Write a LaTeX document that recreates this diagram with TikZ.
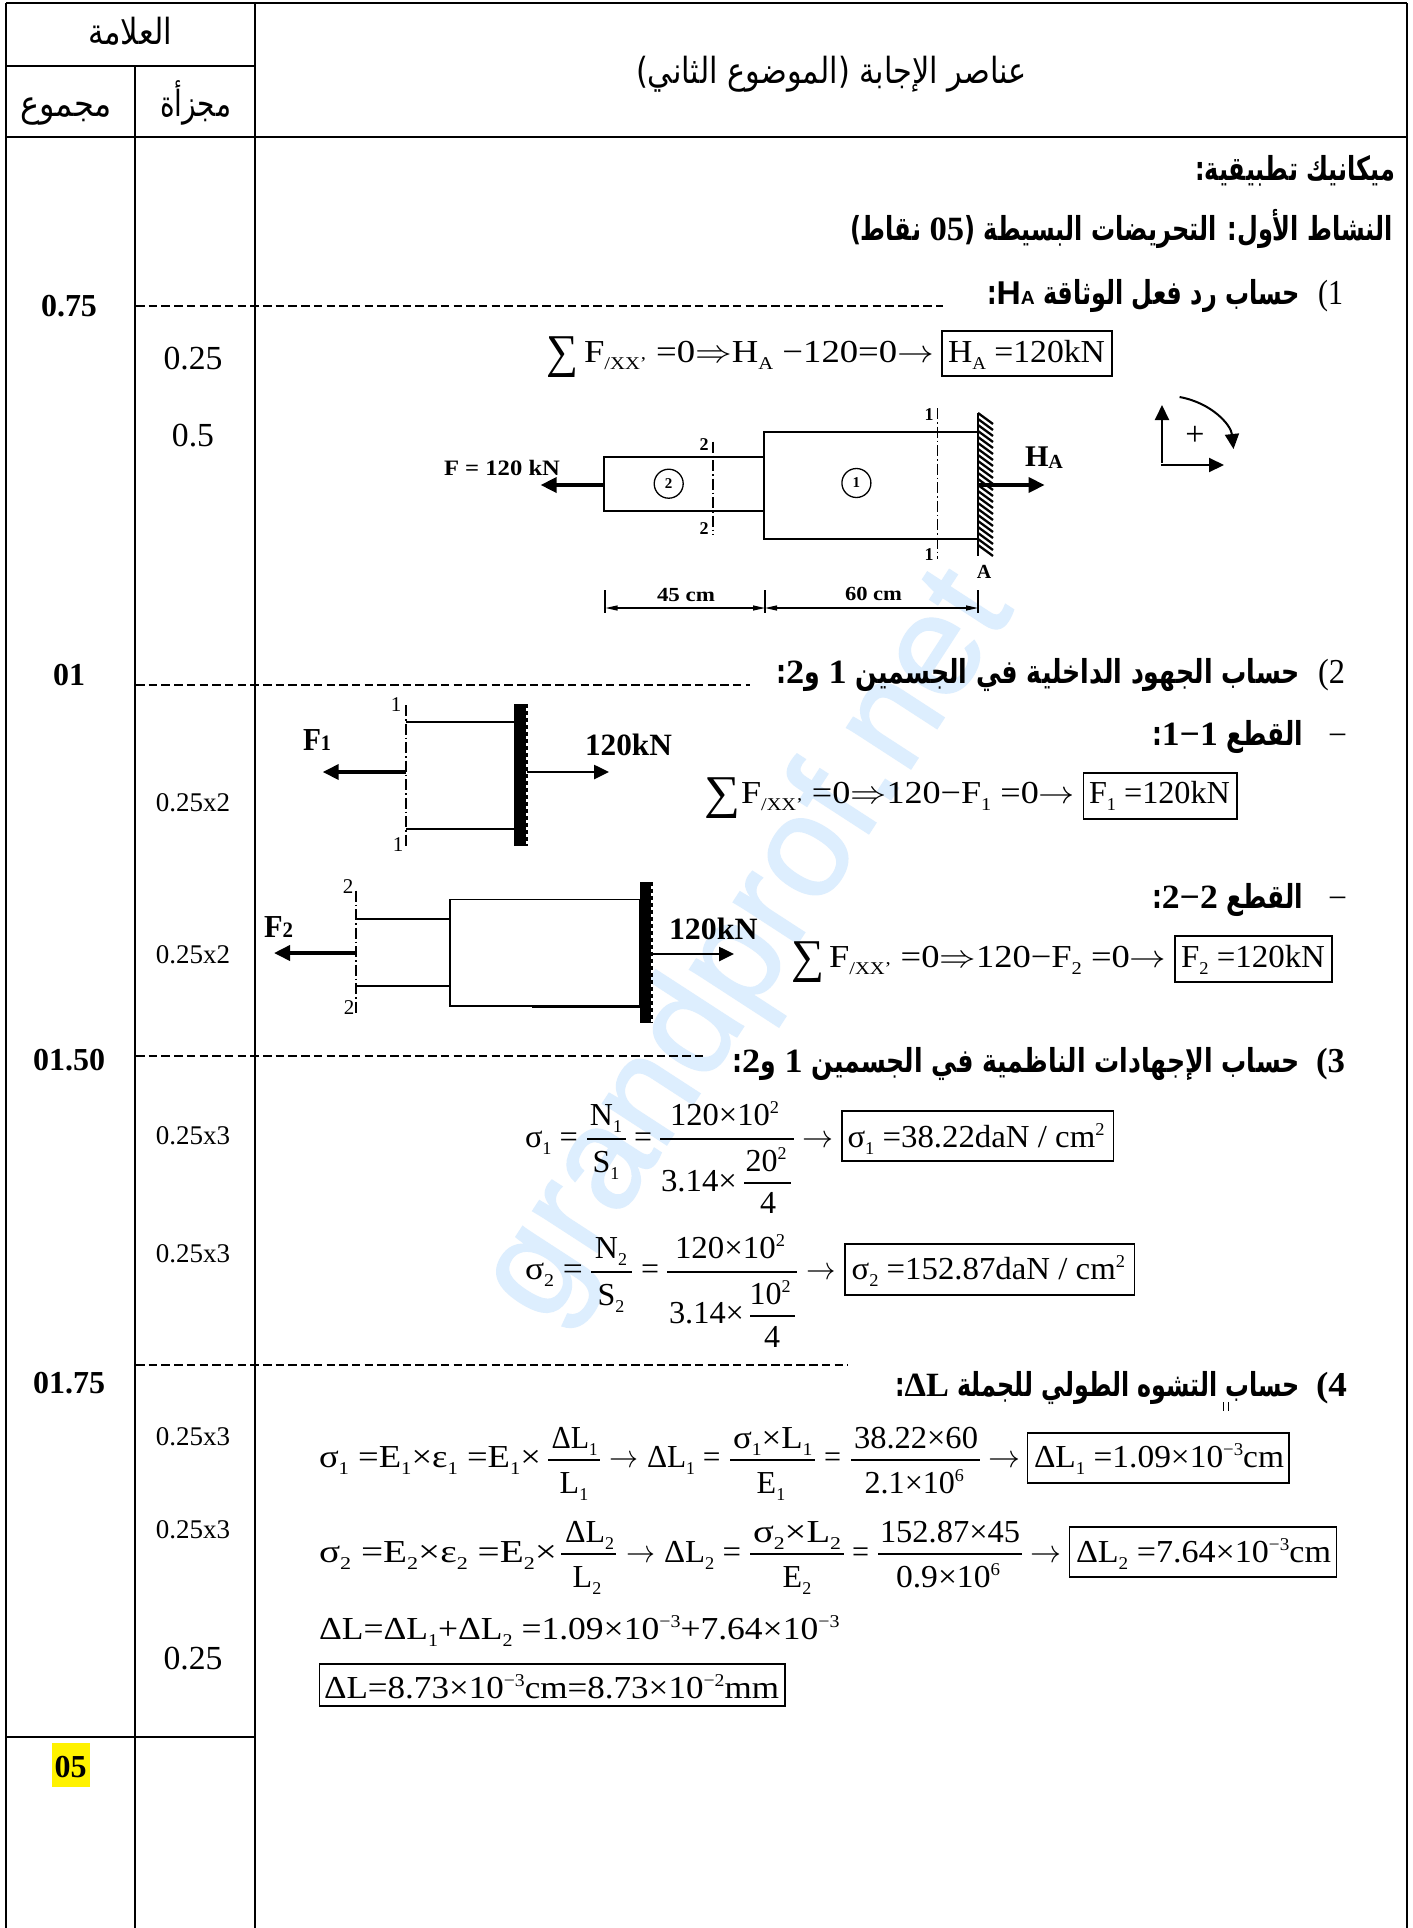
\RequirePackage{fix-cm}
\documentclass[tikz,border=0pt]{standalone}
\usepackage{fontspec}
\usepackage{graphicx}
\usetikzlibrary{arrows.meta}
\setmainfont{Liberation Serif}
\newfontfamily\sansf{Liberation Sans}
\newfontfamily\sansw[FakeStretch=1.4]{Liberation Sans}
\newfontfamily\serifw[FakeStretch=1.4]{Liberation Serif}
\newfontfamily\wmf[FakeBold=1.2]{Liberation Sans}
\newfontfamily\arf[Script=Arabic]{DejaVu Sans}
\TeXXeTstate=1
\definecolor{wmark}{HTML}{DDEEFE}
\newcounter{nc}
\newcommand\bs[1]{\raisebox{-7pt}{\fontsize{18}{18}\selectfont #1}}
\newcommand\us[1]{\raisebox{12pt}{\fontsize{18}{18}\selectfont #1}}
\newcommand\Tx[5]{\stepcounter{nc}\node[anchor=base west,inner sep=0pt,outer sep=0pt,name=t\arabic{nc}] at (#2,#4) {\resizebox{\dimexpr#3pt-#2pt\relax}{\height}{\fontsize{#1}{#1}\selectfont #5}};}
\newcommand\Tc[4]{\stepcounter{nc}\node[anchor=base,inner sep=0pt,outer sep=0pt,name=t\arabic{nc}] at (#2,#3) {\fontsize{#1}{#1}\selectfont #4};}
\newcommand\Rl[3]{\draw[fracrule] (#1,#3) -- (#2,#3);}
\newcommand\Bx[4]{\draw[resbox] (#1,#2) rectangle (#3,#4);}
\newcommand\Ar[1]{\arf\beginR #1\endR}
\newcommand\Ln[1]{{\beginL\serifw\bfseries\fontsize{34}{34}\selectfont #1\endL}}
\newcommand\To{$\rightarrow$}
\tikzset{
  tline/.style={line width=1.8pt,black},
  theavy/.style={line width=2.6pt,black},
  dline/.style={line width=1.5pt,black,dash pattern=on 8.5pt off 4.2pt},
  fracrule/.style={line width=1.3pt,black},
  resbox/.style={line width=1.4pt,black},
  part/.style={line width=1.9pt,black},
  thin part/.style={line width=1.5pt,black},
  axis cut/.style={line width=1.1pt,black,dash pattern=on 11pt off 3pt on 1.5pt off 3pt},
  force/.style={line width=3.6pt,black,-{Triangle[length=16pt,width=15pt]}},
  forceb/.style={line width=2.6pt,black,-{Triangle[length=15pt,width=14pt]}},
  dim/.style={line width=1.2pt,black,{Triangle[length=12pt,width=5pt]}-{Triangle[length=12pt,width=5pt]}},
  tick/.style={line width=1.2pt,black},
  sign/.style={line width=2pt,black,-{Triangle[length=15pt,width=14pt]}},
  wall/.style={fill=black,draw=none},
  bumps/.style={line width=3pt,black,dash pattern=on 4pt off 3pt},
  ring/.style={draw=black,line width=1.3pt,circle,minimum size=29pt,inner sep=0pt,font=\fontsize{15}{15}\selectfont\bfseries},
}
\begin{document}
\begin{tikzpicture}[x=1pt,y=-1pt]
\useasboundingbox (0,0) rectangle (1413,1928);
\fill[white] (0,0) rectangle (1413,1928);
% watermark
\node[rotate=57,text=wmark,inner sep=0pt,name=wm] at (750,948) {\fontsize{144}{144}\selectfont\wmf grandprof.net};
% table
\fill[yellow] (51.5,1743) rectangle (89.5,1787);
\draw[theavy] (6,3) -- (1407,3);
\draw[tline] (6,3) -- (6,1928);
\draw[tline] (255,3) -- (255,1928);
\draw[tline] (1407,3) -- (1407,1928);
\draw[tline] (134.7,66) -- (134.7,1928);
\draw[theavy] (6,66) -- (255,66);
\draw[theavy] (6,137) -- (1407,137);
\draw[theavy] (6,1737) -- (255,1737);
% dashed separators
\coordinate (d1a) at (136,306); \coordinate (d1b) at (943,306);
\coordinate (d2a) at (136,685); \coordinate (d2b) at (750,685);
\coordinate (d3a) at (136,1056); \coordinate (d3b) at (706,1056);
\coordinate (d4a) at (136,1365); \coordinate (d4b) at (848,1365);
\draw[dline] (d1a) -- (d1b);
\draw[dline] (d2a) -- (d2b);
\draw[dline] (d3a) -- (d3b);
\draw[dline] (d4a) -- (d4b);
% header
\Tx{36}{88}{172}{44}{\Ar{العلامة}}
\Tx{36}{160}{231}{116}{\Ar{مجزأة}}
\Tx{36}{20}{112}{116}{\Ar{مجموع}}
\Tx{36}{636}{1027}{83}{\Ar{عناصر الإجابة (الموضوع الثاني)}}
% marks
\Tc{32}{69}{316}{\bfseries 0.75}
\Tc{32}{69}{685}{\bfseries 01}
\Tc{32}{69}{1070}{\bfseries 01.50}
\Tc{32}{69}{1393}{\bfseries 01.75}
\Tc{32}{70.5}{1777}{\bfseries 05}
\Tc{33.7}{193}{369}{0.25}
\Tc{33.7}{193}{446}{0.5}
\Tc{27}{193}{811}{0.25x2}
\Tc{27}{193}{963}{0.25x2}
\Tc{27}{193}{1144}{0.25x3}
\Tc{27}{193}{1262}{0.25x3}
\Tc{27}{193}{1445}{0.25x3}
\Tc{27}{193}{1538}{0.25x3}
\Tc{33.7}{193}{1669}{0.25}
% headings
\Tx{33}{1195}{1395}{180}{\bfseries\Ar{ميكانيك تطبيقية:}}
\Tx{33}{850}{1393}{240}{\bfseries\Ar{النشاط الأول: التحريضات البسيطة (\Ln{05} نقاط)}}
\Tx{33}{987}{1300}{304}{\bfseries\Ar{حساب رد فعل الوثاقة {\beginL\sansw\bfseries H{\fontsize{19}{19}\selectfont A}\endL}:}}
\Tx{35}{1318}{1343}{304}{(1}
\Tx{33}{776}{1300}{683}{\bfseries\Ar{حساب الجهود الداخلية في الجسمين \Ln{1} و\Ln{2}:}}
\Tx{35}{1318}{1345}{683}{(2}
\Tx{33}{1152}{1303}{745}{\bfseries\Ar{القطع \Ln{1−1}:}}
\Tx{32}{1328}{1347}{745}{−}
\Tx{33}{1152}{1303}{908}{\bfseries\Ar{القطع \Ln{2−2}:}}
\Tx{32}{1328}{1347}{908}{−}
\Tx{33}{732}{1300}{1072}{\bfseries\Ar{حساب الإجهادات الناظمية في الجسمين \Ln{1} و\Ln{2}:}}
\Tx{35}{1316}{1345}{1072}{\bfseries (3}
\Tx{33}{895}{1300}{1396}{\bfseries\Ar{حساب التشوه الطولي للجملة \Ln{ΔL}:}}
\Tx{35}{1316}{1347}{1396}{\bfseries (4}
\draw[line width=.8pt] (1223,1402) -- (1223,1411) (1228,1402) -- (1228,1411);
% equation HA
\Tx{47}{546}{578}{367}{∑}
\Tx{32}{584}{934}{362}{F\bs{/XX'} =0$\Rightarrow$H\bs{A} −120=0\To}
\Bx{942}{331}{1112}{376}
\Tx{32}{948}{1105}{362}{H\bs{A} =120kN}
% main part figure
\draw[part] (604.4,457.3) rectangle (764,511.3);
\draw[part] (764,432) rectangle (978,538.7);
\draw[line width=2.2pt] (978,413) -- (978,556);
\foreach \yy in {413,419,...,545} {\draw[line width=2.3pt] (978,\yy) -- (993,\yy+11);}
\coordinate (fa) at (604.4,485); \coordinate (fb) at (540.6,485);
\coordinate (ha) at (978,485); \coordinate (hb) at (1044.6,485);
\draw[force] (fa) -- (fb);
\draw[force] (ha) -- (hb);
\draw[axis cut] (937.3,408) -- (937.3,559);
\draw[axis cut] (713,441.7) -- (713,535);
\Tc{18}{929}{420}{\bfseries 1}
\Tc{18}{929}{560}{\bfseries 1}
\Tc{18}{704}{450}{\bfseries 2}
\Tc{18}{704}{534}{\bfseries 2}
\node[ring,name=c2] at (668.7,483.7) {2};
\node[ring,name=c1] at (856.4,483) {1};
\Tx{22}{444}{560}{475}{\bfseries F = 120 kN}
\Tx{30}{1025}{1063}{466}{\bfseries H{\fontsize{20}{20}\selectfont\raisebox{-2pt}{A}}}
\Tc{20}{984}{578}{\bfseries A}
\draw[tick] (605,590) -- (605,613);
\draw[tick] (765,590) -- (765,613);
\draw[tick] (978,590) -- (978,613);
\coordinate (m1) at (605.5,608); \coordinate (m2) at (765,608); \coordinate (m3) at (978,608);
\draw[dim] (m1) -- (m2);
\draw[dim] (m2) -- (m3);
\Tx{20}{657}{715}{601.7}{\bfseries 45 cm}
\Tx{20}{845}{902}{600}{\bfseries 60 cm}
% sign convention
\coordinate (s0) at (1162,465); \coordinate (sy) at (1162,405); \coordinate (sx) at (1224,465);
\draw[sign] (1162,463) -- (sy);
\draw[sign] (1161,465) -- (sx);
\draw[sign] (1179.6,397) .. controls (1212,403) and (1231,425) .. (1233.5,449);
\Tc{34}{1195}{445}{+}
% section 1-1
\fill[wall] (514,704) rectangle (525.5,845.7);
\draw[bumps] (526,704) -- (526,845.7);
\draw[axis cut] (406,705) -- (406,846);
\draw[thin part] (406,722) -- (514,722);
\draw[thin part] (406,829) -- (514,829);
\coordinate (f1a) at (406,772); \coordinate (f1b) at (322.7,772);
\coordinate (r1a) at (526.7,772); \coordinate (r1b) at (609,772);
\draw[force] (f1a) -- (f1b);
\draw[forceb] (r1a) -- (r1b);
\Tx{32}{303}{331}{750}{\bfseries F{\fontsize{22}{22}\selectfont 1}}
\Tx{31}{585}{672}{755.7}{\bfseries 120kN}
\Tc{21}{396}{711}{1}
\Tc{21}{398}{851}{1}
% equation F1
\Tx{47}{704}{740}{808}{∑}
\Tx{32}{741}{1075}{803}{F\bs{/XX'} =0$\Rightarrow$120−F\bs{1} =0\To}
\Bx{1083.5}{773}{1237}{819}
\Tx{32}{1089}{1230}{803}{F\bs{1} =120kN}
% section 2-2
\fill[wall] (640,882) rectangle (651,1023);
\draw[bumps] (651.5,882) -- (651.5,1023);
\draw[axis cut] (356,890.7) -- (356,1013);
\draw[thin part] (356,919) -- (450,919);
\draw[thin part] (356,986) -- (450,986);
\draw[thin part] (450,899.3) rectangle (640,1006);
\draw[line width=2pt] (532,1006.5) -- (640,1006.5);
\coordinate (f2a) at (356,953); \coordinate (f2b) at (274,953);
\coordinate (r2a) at (651.7,954); \coordinate (r2b) at (734,954);
\draw[force] (f2a) -- (f2b);
\draw[forceb] (r2a) -- (r2b);
\Tx{32}{264}{293}{937}{\bfseries F{\fontsize{22}{22}\selectfont 2}}
\Tx{31}{669}{757.6}{939}{\bfseries 120kN}
\Tc{21}{348}{893}{2}
\Tc{21}{349}{1014}{2}
% equation F2
\Tx{47}{791}{824}{972}{∑}
\Tx{32}{829}{1166.5}{967}{F\bs{/XX'} =0$\Rightarrow$120−F\bs{2} =0\To}
\Bx{1175}{936}{1332}{982}
\Tx{32}{1181}{1325}{967}{F\bs{2} =120kN}
% sigma 1
\Tx{32}{525}{578}{1147}{σ\bs{1} =}
\Rl{587}{626}{1139}
\Tc{32}{606}{1125}{N\bs{1}}
\Tc{32}{606}{1172}{S\bs{1}}
\Tx{32}{634}{652}{1147}{=}
\Rl{660}{794}{1139}
\Tx{32}{670}{779}{1125}{120×10\us{2}}
\Tx{32}{661}{737}{1191}{3.14×}
\Rl{744}{791}{1183}
\Tc{32}{766}{1171}{20\us{2}}
\Tc{32}{768}{1213}{4}
\Tx{32}{802}{833}{1147}{\To}
\Bx{842}{1111}{1113.5}{1161}
\Tx{32}{847.5}{1104.5}{1147}{σ\bs{1} =38.22daN / cm\us{2}}
% sigma 2
\Tx{32}{525}{583}{1279}{σ\bs{2} =}
\Rl{591}{632}{1272}
\Tc{32}{611}{1258}{N\bs{2}}
\Tc{32}{611}{1305}{S\bs{2}}
\Tx{32}{641}{659}{1279}{=}
\Rl{667}{797}{1272}
\Tx{32}{675}{785}{1258}{120×10\us{2}}
\Tx{32}{669}{744}{1323}{3.14×}
\Rl{750}{795}{1316}
\Tc{32}{770}{1304}{10\us{2}}
\Tc{32}{772}{1347}{4}
\Tx{32}{806.6}{836}{1279}{\To}
\Bx{845}{1244}{1134.5}{1295}
\Tx{32}{851.6}{1125}{1279}{σ\bs{2} =152.87daN / cm\us{2}}
% elongation row A
\Tx{32}{319}{541}{1467}{σ\bs{1} =E\bs{1}×ε\bs{1} =E\bs{1}×}
\Rl{548}{600}{1460}
\Tx{32}{551.5}{597.5}{1448}{ΔL\bs{1}}
\Tc{32}{574}{1493}{L\bs{1}}
\Tx{32}{609}{638}{1467}{\To}
\Tx{32}{647}{720.5}{1467}{ΔL\bs{1} =}
\Rl{730}{815}{1460}
\Tx{32}{733}{812.5}{1448}{σ\bs{1}×L\bs{1}}
\Tc{32}{771}{1493}{E\bs{1}}
\Tx{32}{824}{841}{1467}{=}
\Rl{851}{979.5}{1460}
\Tx{32}{854}{978}{1448}{38.22×60}
\Tx{32}{864.6}{964}{1493}{2.1×10\us{6}}
\Tx{32}{988}{1020}{1467}{\To}
\Bx{1027.5}{1433}{1289}{1483}
\Tx{32}{1034}{1284}{1467}{ΔL\bs{1} =1.09×10\us{−3}cm}
% elongation row B
\Tx{32}{319}{557}{1562}{σ\bs{2} =E\bs{2}×ε\bs{2} =E\bs{2}×}
\Rl{561}{616}{1554}
\Tx{32}{565}{614}{1542}{ΔL\bs{2}}
\Tc{32}{587}{1587}{L\bs{2}}
\Tx{32}{626}{655}{1562}{\To}
\Tx{32}{664}{741}{1562}{ΔL\bs{2} =}
\Rl{750}{844}{1554}
\Tx{32}{753}{841}{1542}{σ\bs{2}×L\bs{2}}
\Tc{32}{797}{1587}{E\bs{2}}
\Tx{32}{852}{869}{1562}{=}
\Rl{878}{1022}{1554}
\Tx{32}{880}{1020}{1542}{152.87×45}
\Tx{32}{896}{1000}{1587}{0.9×10\us{6}}
\Tx{32}{1030}{1061}{1562}{\To}
\Bx{1069.5}{1527}{1336.5}{1577}
\Tx{32}{1076}{1331}{1562}{ΔL\bs{2} =7.64×10\us{−3}cm}
% elongation total
\Tx{32}{319}{839.5}{1639}{ΔL=ΔL\bs{1}+ΔL\bs{2} =1.09×10\us{−3}+7.64×10\us{−3}}
\Bx{319.6}{1664}{785}{1706}
\Tx{32}{324}{779}{1698}{ΔL=8.73×10\us{−3}cm=8.73×10\us{−2}mm}
\end{tikzpicture}
\end{document}
